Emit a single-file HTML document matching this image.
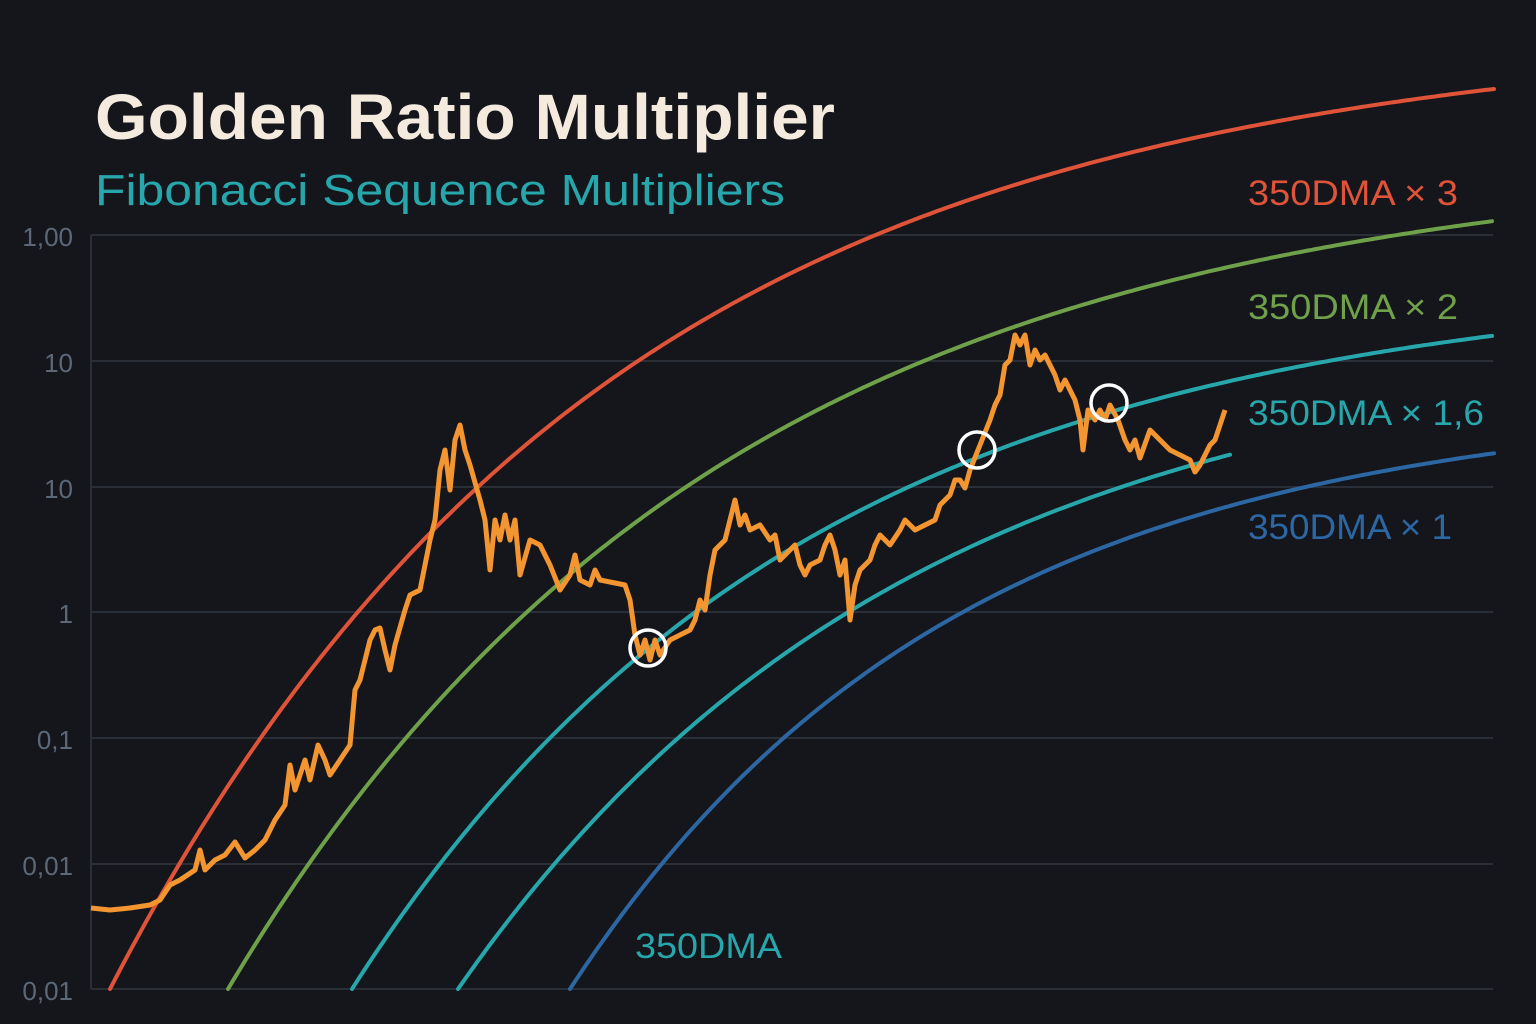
<!DOCTYPE html>
<html><head><meta charset="utf-8"><style>
html,body{margin:0;padding:0;background:#14161b;}
svg{display:block}
</style></head><body>
<svg id="s" width="1536" height="1024" viewBox="0 0 1536 1024" xmlns="http://www.w3.org/2000/svg">
<rect width="1536" height="1024" fill="#14161b"/>
<g stroke="#2a2e36" stroke-width="2">
<line x1="91" y1="235" x2="1493" y2="235"/>
<line x1="91" y1="361" x2="1493" y2="361"/>
<line x1="91" y1="487" x2="1493" y2="487"/>
<line x1="91" y1="612" x2="1493" y2="612"/>
<line x1="91" y1="738" x2="1493" y2="738"/>
<line x1="91" y1="864" x2="1493" y2="864"/>
<line x1="91" y1="989" x2="1493" y2="989"/>
<line x1="91" y1="235" x2="91" y2="989"/>
</g>
<g font-family="Liberation Sans, sans-serif" font-size="26" fill="#5c6878" text-anchor="end">
<text x="73" y="246">1,00</text>
<text x="73" y="372">10</text>
<text x="73" y="498">10</text>
<text x="73" y="623">1</text>
<text x="73" y="749">0,1</text>
<text x="73" y="875">0,01</text>
<text x="73" y="1000">0,01</text>
</g>
<g fill="none" stroke-width="4" stroke-linecap="round">
<path id="red" stroke="#df5338"/>
<path id="green" stroke="#6fa04a"/>
<path id="t1" stroke="#27a7ab"/>
<path id="t2" stroke="#27a7ab"/>
<path id="blue" stroke="#2c67a3"/>
</g>
<polyline fill="none" stroke="#f39530" stroke-width="5" stroke-linejoin="round" points="91,908 110,910 130,908 150,905 160,900 170,885 180,880 195,870 200,850 205,870 215,860 225,855 235,842 245,858 255,850 265,840 275,820 285,805 290,765 295,790 300,775 305,760 310,780 318,745 325,760 330,775 340,760 350,745 355,690 360,680 365,660 370,640 375,630 380,628 385,650 390,670 395,645 405,610 410,595 420,590 425,565 430,540 435,520 440,470 445,450 450,490 455,440 460,425 465,450 470,465 480,500 485,520 490,570 495,520 500,540 505,515 510,540 515,520 520,575 530,540 540,545 550,565 560,590 570,575 575,555 580,580 590,585 595,570 600,580 610,582 625,585 630,600 635,635 640,655 645,640 650,660 655,640 660,655 670,640 680,635 690,630 695,620 700,600 705,610 710,575 715,550 720,545 725,540 730,520 735,500 740,525 745,515 750,530 760,525 770,540 775,535 780,560 790,550 795,545 800,565 805,575 810,565 820,560 825,545 830,535 835,550 840,575 845,560 850,620 855,585 860,570 870,560 875,545 880,535 890,545 900,530 905,520 915,530 925,525 935,520 940,505 950,495 955,480 960,480 965,488 970,470 980,445 990,420 995,405 1000,395 1005,365 1010,360 1015,335 1020,345 1025,335 1030,365 1035,350 1040,360 1045,355 1055,375 1060,390 1065,380 1075,400 1080,420 1083,450 1088,410 1095,420 1100,410 1105,420 1110,405 1118,420 1125,440 1130,450 1135,440 1140,458 1150,430 1160,440 1170,450 1180,455 1190,460 1195,472 1200,465 1210,445 1215,440 1220,425 1225,410"/>
<g fill="none" stroke="#ffffff" stroke-width="3.5">
<circle cx="648" cy="648" r="18"/>
<circle cx="977" cy="450" r="18"/>
<circle cx="1109" cy="403" r="18"/>
</g>
<text x="95" y="139" font-family="Liberation Sans, sans-serif" font-size="64" font-weight="bold" fill="#f4ebde" textLength="740" lengthAdjust="spacingAndGlyphs">Golden Ratio Multiplier</text>
<text x="95" y="205" font-family="Liberation Sans, sans-serif" font-size="44" fill="#27a7ab" textLength="690" lengthAdjust="spacingAndGlyphs">Fibonacci Sequence Multipliers</text>
<g font-family="Liberation Sans, sans-serif" font-size="35">
<text x="1248" y="205" fill="#df5338" textLength="210" lengthAdjust="spacingAndGlyphs">350DMA × 3</text>
<text x="1248" y="319" fill="#6fa04a" textLength="210" lengthAdjust="spacingAndGlyphs">350DMA × 2</text>
<text x="1248" y="425" fill="#27a7ab" textLength="236" lengthAdjust="spacingAndGlyphs">350DMA × 1,6</text>
<text x="1248" y="539" fill="#2c67a3" textLength="204" lengthAdjust="spacingAndGlyphs">350DMA × 1</text>
<text x="635" y="958" fill="#27a7ab" textLength="147" lengthAdjust="spacingAndGlyphs">350DMA</text>
</g>
</svg>
<script>
function mk(id,x0,x1,c,k){var d="";for(var x=x0;x<=x1;x+=4){var y=c+(989-c)*Math.exp(-k*(x-x0));d+=(d?" L":"M")+x+","+y.toFixed(1);}
document.getElementById(id).setAttribute("d",d);}
mk("red",110,1494,30,0.002015);
mk("green",228,1494,156,0.002015);
mk("t1",352,1494,278,0.0022);
mk("t2",458,1230,335,0.0022);
mk("blue",570,1494,400,0.0026);
</script>
</body></html>
